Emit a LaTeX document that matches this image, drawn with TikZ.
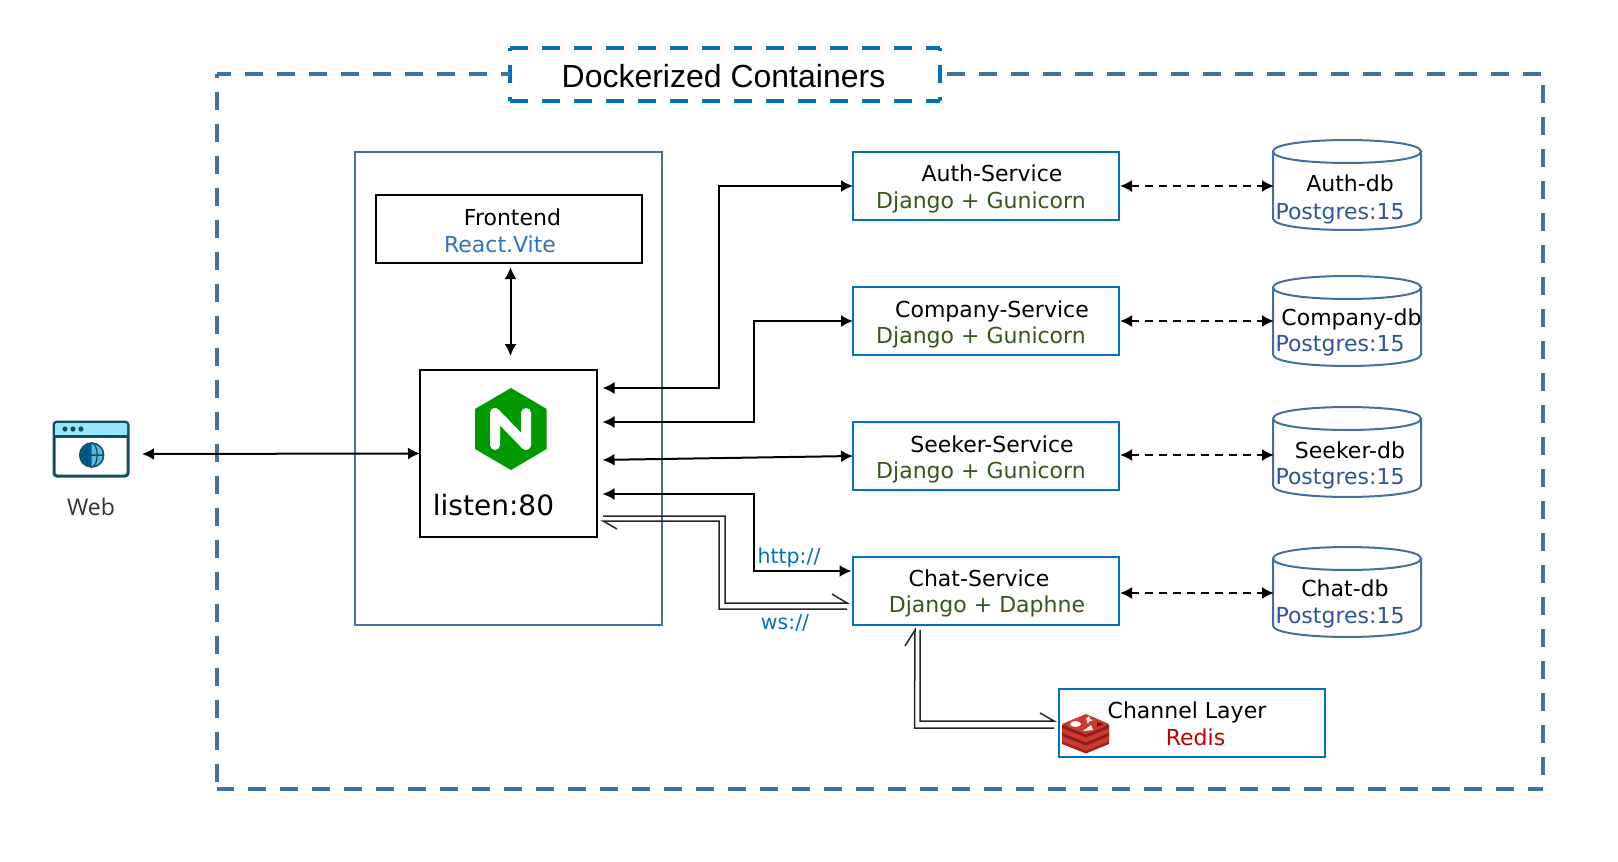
\documentclass[tikz,border=0pt]{standalone}
\usepackage{fontspec}
\setmainfont{DejaVu Sans}
\newfontfamily\titlefont{Liberation Sans}
\newfontfamily\webfont{Open Sans}
\usetikzlibrary{arrows.meta,calc}
\definecolor{framecol}{HTML}{41709F}
\definecolor{boxblue}{HTML}{0070C0}
\definecolor{djgreen}{HTML}{38571A}
\definecolor{reactblue}{HTML}{3373B5}
\definecolor{pgblue}{HTML}{2F5597}
\definecolor{redisred}{HTML}{C00000}
\definecolor{dbline}{HTML}{41709F}
\definecolor{webteal}{HTML}{11505F}
\definecolor{webcyan}{HTML}{97E6FB}
\definecolor{nginxgreen}{HTML}{009900}
\definecolor{redisdark}{HTML}{A8221C}
\definecolor{redismain}{HTML}{CB3A30}
\tikzset{
  x=1pt,y=-1pt,
  svcbox/.style={draw=boxblue,line width=2pt,fill=white,outer sep=0pt,inner sep=0pt,minimum width=266pt,minimum height=68pt},
  blackbox/.style={draw=black,line width=2pt,fill=white,outer sep=0pt,inner sep=0pt},
  label22/.style={font=\fontsize{22}{26}\selectfont,inner sep=0pt,outer sep=0pt,anchor=base},
  proto/.style={font=\fontsize{20.5}{24}\selectfont,text=boxblue,inner sep=0pt,outer sep=0pt,anchor=base},
  solidarrow/.style={line width=2pt,draw=black,{Latex[length=12pt,width=12pt]}-{Latex[length=12pt,width=12pt]}},
  dasharrow/.style={line width=2pt,draw=black,dash pattern=on 8pt off 6pt,{Latex[length=12pt,width=12pt]}-{Latex[length=12pt,width=12pt]}},
  thinpair/.style={line width=1.5pt,draw=black!85,line join=miter},
  frameline/.style={line width=4.5pt,draw=framecol,dash pattern=on 18pt off 14pt},
  titleline/.style={line width=4.5pt,draw=boxblue,dash pattern=on 18pt off 14pt},
}
\newcommand{\dbcyl}[3]{%
  \node[inner sep=0pt,outer sep=0pt,minimum width=148pt,minimum height=90pt] (#1) at (#2+74,#3+45) {};
  \draw[dbline,line width=2pt,fill=white]
    (#2,#3+11.5) .. controls (#2,#3-3.8) and (#2+148,#3-3.8) .. (#2+148,#3+11.5)
    -- (#2+148,#3+78.5) .. controls (#2+148,#3+93.8) and (#2,#3+93.8) .. (#2,#3+78.5) -- cycle
    (#2,#3+11.5) .. controls (#2,#3+26.8) and (#2+148,#3+26.8) .. (#2+148,#3+11.5);
}
\begin{document}
\begin{tikzpicture}
\useasboundingbox (0,0) rectangle (1618,862);
\fill[white] (0,0) rectangle (1618,862);

% title box
\node[fill=white,outer sep=0pt,inner sep=0pt,minimum width=430pt,minimum height=53pt] (title) at (725,74.5) {};
\draw[titleline] (title.north west) -- (title.north east);
\draw[titleline] (title.south west) -- (title.south east);
\draw[titleline,dash phase=15pt] (title.north west) -- (title.south west);
\draw[titleline,dash phase=15pt] (title.north east) -- (title.south east);
\node[font=\titlefont\fontsize{32}{38}\selectfont,inner sep=0pt,anchor=base] (titletext) at (723.5,87) {Dockerized Containers};

% outer dashed frame
\coordinate (fTR) at (1543,74);
\coordinate (fBR) at (1543,789);
\coordinate (fBL) at (217,789);
\coordinate (fTL) at (217,74);
\coordinate (fTitleL) at (510,74);
\coordinate (fTitleR) at (947,74);
\draw[frameline,dash phase=4pt] (fTL) -- (fTitleL);
\draw[frameline] (fTitleR) -- (fTR);
\draw[frameline,dash phase=14pt] (fTL) -- (fBL);
\draw[frameline,dash phase=21pt] (fTR) -- (fBR);
\draw[frameline,dash phase=1pt] (fBL) -- (fBR);

% nginx container
\node[draw=framecol,line width=2pt,outer sep=0pt,inner sep=0pt,minimum width=307pt,minimum height=473pt] (ctr) at (508.5,388.5) {};
\node[blackbox,minimum width=266pt,minimum height=68pt] (front) at (509,229) {};
\node[label22] (fronttxt) at (512.5,225) {Frontend};
\node[label22,text=reactblue] (reacttxt) at (500,252) {React.Vite};
\node[blackbox,minimum width=177pt,minimum height=167pt] (nginx) at (508.5,453.5) {};
\fill[nginxgreen] (511,388) -- (546.7,409) -- (546.7,449) -- (511,470) -- (475,449) -- (475,409) -- cycle;
\draw[white,line width=10pt,line cap=round,line join=round] (495,445) -- (495,413) -- (526,445) -- (526,413);
\node[font=\fontsize{28}{32}\selectfont,inner sep=0pt,anchor=base] (listen) at (493.5,515) {listen:80};

% web icon
\node[draw=webteal,line width=3pt,rounded corners=3pt,fill=white,outer sep=0pt,inner sep=0pt,minimum width=74pt,minimum height=54pt] (web) at (91,449) {};
\fill[webcyan,rounded corners=2pt] (55,423) rectangle (127,436);
\draw[webteal,line width=2.5pt] (54,436.5) -- (128,436.5);
\fill[webteal] (65,429) circle (2.6) (73,429) circle (2.6) (81,429) circle (2.6);
\fill[webcyan!60!boxblue] (91.7,455) circle (12);
\fill[boxblue!80!black] (91.7,467) arc[start angle=90,end angle=270,radius=12] -- cycle;
\draw[webteal,line width=1.5pt] (91.7,455) circle (12) (79.7,455) -- (103.7,455);
\draw[webteal,line width=1.2pt] (91.7,455) ellipse [x radius=5.5,y radius=12];
\node[font=\webfont\fontsize{23}{26}\selectfont,text=black!80,inner sep=0pt,anchor=base] (webtxt) at (91,515) {Web};

% services
\node[svcbox] (auth) at (986,186) {};
\node[label22] (authtxt) at (992,181) {Auth-Service};
\node[label22,text=djgreen] (authdj) at (981,208) {Django + Gunicorn};
\node[svcbox] (company) at (986,321) {};
\node[label22] (comptxt) at (992,317) {Company-Service};
\node[label22,text=djgreen] (compdj) at (981,343) {Django + Gunicorn};
\node[svcbox] (seeker) at (986,456) {};
\node[label22] (seektxt) at (992,452) {Seeker-Service};
\node[label22,text=djgreen] (seekdj) at (981,478) {Django + Gunicorn};
\node[svcbox] (chat) at (986,591) {};
\node[label22] (chattxt) at (979,586) {Chat-Service};
\node[label22,text=djgreen] (chatdj) at (987,612) {Django + Daphne};

% channel layer
\node[svcbox] (channel) at (1192,722.5) {};
\node[label22] (chantxt) at (1187,718) {Channel Layer};
\node[label22,text=redisred] (redistxt) at (1195.5,745) {Redis};
% redis icon
\fill[redisdark] (1062,725) -- (1062,744) -- (1086,753.5) -- (1109,744) -- (1109,725) -- (1086,715) -- cycle;
\fill[redismain] (1062,741) -- (1086,750.5) -- (1109,741) -- (1109,735) -- (1086,726) -- (1062,735) -- cycle;
\fill[redisdark!85!black] (1062,736) -- (1086,745.5) -- (1109,736) -- (1109,733) -- (1086,742.5) -- (1062,733) -- cycle;
\fill[redismain] (1062,732.5) -- (1086,742) -- (1109,732.5) -- (1109,727) -- (1086,727) -- (1062,727) -- cycle;
\fill[redisdark!85!black] (1062,728) -- (1086,737.5) -- (1109,728) -- (1109,725) -- (1086,734.5) -- (1062,725) -- cycle;
\fill[redismain] (1062,724) -- (1086,714) -- (1109,724) -- (1086,734) -- cycle;
\fill[white] (1075.5,724) ellipse [x radius=5.5,y radius=3];
\fill[white] (1086,719) -- (1089,716) -- (1090,719) -- (1093,720) -- (1089,721.5) -- (1088,724) -- cycle;
\fill[white] (1083,731) -- (1093,730) -- (1091,725) -- cycle;
\fill[black!60!red] (1097,722) -- (1103,724) -- (1097,727) -- cycle;

% databases
\dbcyl{authdb}{1273}{140}
\node[label22] (authdbtxt) at (1350,191) {Auth-db};
\node[label22,text=pgblue] (authpg) at (1340,219) {Postgres:15};
\dbcyl{compdb}{1273}{276}
\node[label22] (compdbtxt) at (1351.5,325) {Company-db};
\node[label22,text=pgblue] (comppg) at (1340,351) {Postgres:15};
\dbcyl{seekdb}{1273}{407}
\node[label22] (seekdbtxt) at (1350,458) {Seeker-db};
\node[label22,text=pgblue] (seekpg) at (1340,484) {Postgres:15};
\dbcyl{chatdb}{1273}{547}
\node[label22] (chatdbtxt) at (1345,596) {Chat-db};
\node[label22,text=pgblue] (chatpg) at (1340,623.5) {Postgres:15};

% labels on the links
\node[proto] (http) at (789,563) {http://};
\node[proto] (ws) at (785,629) {ws://};

% connectors
\draw[solidarrow,shorten <=14pt] ([yshift=-5pt]web.east) -- (nginx.west);
\draw[solidarrow,shorten <=4pt,shorten >=14pt] ([xshift=1.5pt]front.south) -- ([xshift=2pt]nginx.north);
\coordinate (c1) at (719,186);
\coordinate (c2) at (754,321);
\coordinate (c4) at (754,571);
\draw[solidarrow,shorten <=5.5pt] ([yshift=65.5pt]nginx.east) -| (c1) -- (auth.west);
\draw[solidarrow,shorten <=5.5pt] ([yshift=31.5pt]nginx.east) -| (c2) -- (company.west);
\draw[solidarrow,shorten <=5.5pt] ([yshift=-6.5pt]nginx.east) -- (seeker.west);
\draw[solidarrow,shorten <=5.5pt,shorten >=1.5pt] ([yshift=-40.5pt]nginx.east) -| (c4) -- ([yshift=20pt]chat.west);

\draw[dasharrow,shorten <=1pt,shorten >=-1pt] (auth.east) -- (auth.east -| authdb.west);
\draw[dasharrow,shorten <=1pt,shorten >=-1pt] (company.east) -- (company.east -| compdb.west);
\draw[dasharrow,shorten <=1pt,shorten >=-1pt] ([yshift=1pt]seeker.east) -- ([yshift=1pt]seeker.east -| seekdb.west);
\draw[dasharrow,shorten <=1pt,shorten >=-1pt] ([yshift=-2pt]chat.east) -- ([yshift=-2pt]chat.east -| chatdb.west);

% double links
\coordinate (wsA) at (725,603);
\coordinate (wsB) at (719,609);
\coordinate (wsEndA) at (847,603);
\coordinate (wsEndB) at (847,609);
\coordinate (barbL) at (617,529);
\coordinate (barbR) at (832,594);
\draw[thinpair] ([xshift=6pt,yshift=-62.5pt]nginx.east) -| (wsA) -- (wsEndA) -- (barbR);
\draw[thinpair] (barbL) -- ([xshift=6pt,yshift=-67.5pt]nginx.east) -| (wsB) -- (wsEndB);

\coordinate (rdA) at (920,721);
\coordinate (rdB) at (914.5,728);
\coordinate (rdEndA) at (1054,721);
\coordinate (rdEndB) at (1054,728);
\coordinate (barbU) at (905,646);
\coordinate (barbS) at (1040,713);
\coordinate (rdTopA) at (920,630);
\coordinate (rdTopB) at (915,630);
\draw[thinpair] (rdTopA) -- (rdA) -- (rdEndA) -- (barbS);
\draw[thinpair] (barbU) -- (rdTopB) -- (rdB) -- (rdEndB);
\end{tikzpicture}
\end{document}
